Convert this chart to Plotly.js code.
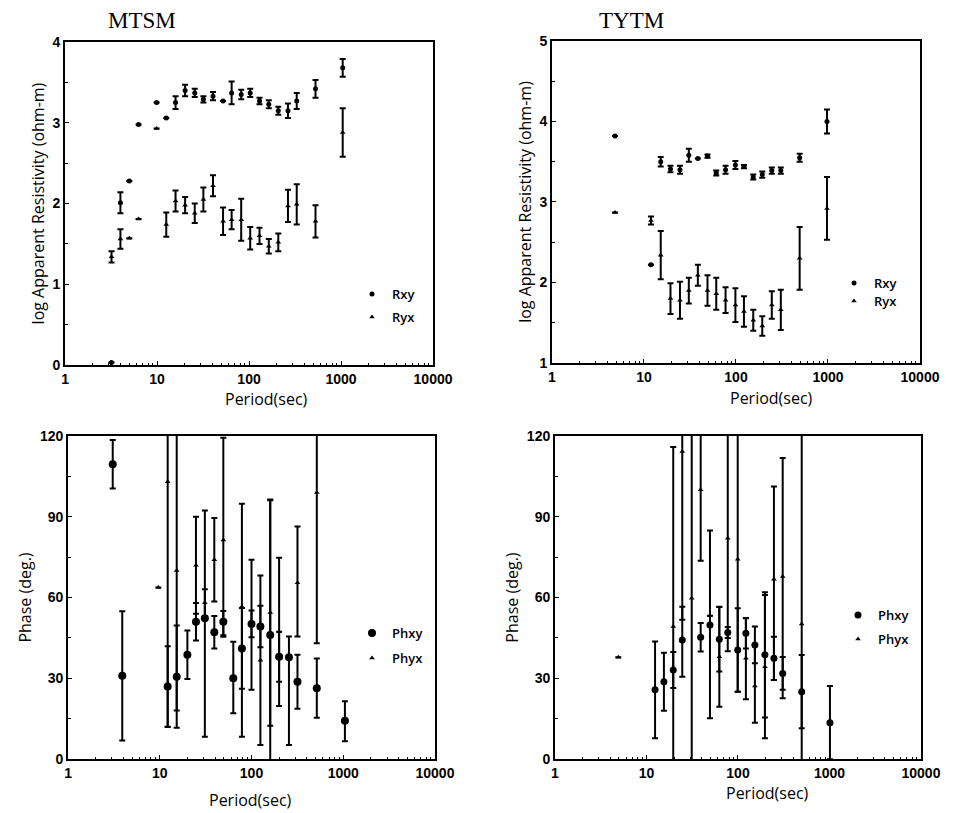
<!DOCTYPE html>
<html>
<head>
<meta charset="utf-8">
<script src="https://cdn.plot.ly/plotly-3.0.1.min.js"></script>
<style>body{margin:0;background:#fff}#chart{width:972px;height:813px}</style>
</head>
<body>
<div id="chart"></div>
<script>
// ---------- MTSM apparent resistivity ----------
const mtsmPeriod = [3.2, 4.0, 5.0, 6.3, 9.9, 12.6, 15.9, 20.2, 25.7, 31.9, 40.6, 52.2, 64.7, 82.2, 103, 130, 164, 208, 265, 330, 528, 1043];
const mtsmRxy    = [0.03, 2.01, 2.28, 2.98, 3.25, 3.06, 3.25, 3.40, 3.37, 3.29, 3.33, 3.27, 3.37, 3.35, 3.37, 3.27, 3.23, 3.15, 3.15, 3.27, 3.42, 3.68];
const mtsmRxyErr = [0, 0.13, 0, 0, 0, 0, 0.08, 0.07, 0.05, 0.04, 0.05, 0, 0.14, 0.06, 0.05, 0.04, 0.05, 0.05, 0.09, 0.10, 0.11, 0.11];
const mtsmRyx    = [1.34, 1.56, 1.57, 1.81, 2.93, 1.74, 2.03, 1.98, 1.88, 2.05, 2.22, 1.78, 1.80, 1.80, 1.57, 1.60, 1.47, 1.52, 1.97, 1.99, 1.78, 2.88];
const mtsmRyxErr = [0.07, 0.12, 0, 0, 0, 0.15, 0.13, 0.10, 0.12, 0.15, 0.13, 0.17, 0.12, 0.26, 0.14, 0.10, 0.09, 0.11, 0.20, 0.25, 0.20, 0.30];

// ---------- TYTM apparent resistivity ----------
const tytmPeriod = [4.84, 11.9, 15.2, 19.4, 24.6, 30.7, 38.5, 49, 61, 77, 98.5, 122, 154, 193, 245, 307, 492, 975];
const tytmRxy    = [3.82, 2.22, 3.50, 3.41, 3.40, 3.58, 3.54, 3.57, 3.36, 3.40, 3.46, 3.44, 3.31, 3.34, 3.39, 3.39, 3.55, 4.00];
const tytmRxyErr = [0, 0, 0.06, 0.04, 0.05, 0.08, 0, 0.02, 0.03, 0.05, 0.05, 0.02, 0.03, 0.04, 0.04, 0.04, 0.05, 0.15];
const tytmRyx    = [2.87, 2.77, 2.34, 1.80, 1.78, 1.90, 2.09, 1.90, 1.86, 1.78, 1.72, 1.64, 1.53, 1.46, 1.72, 1.66, 2.30, 2.92];
const tytmRyxErr = [0, 0.05, 0.30, 0.19, 0.23, 0.16, 0.13, 0.19, 0.20, 0.16, 0.21, 0.19, 0.13, 0.12, 0.17, 0.25, 0.39, 0.39];

// ---------- MTSM phase ----------
const mtsmPhPeriod  = [3.07, 3.9, 9.65, 12.2, 15.3, 20, 24.8, 31, 39.3, 49.3, 63.3, 78.6, 100, 125, 160, 200, 256, 317, 515, 1043];
const mtsmPhxy      = [109.5, 30.9, null, 26.9, 30.6, 38.7, 51.0, 52.3, 47.1, 51.0, 30.0, 41.1, 50.2, 49.2, 46.1, 38.0, 37.8, 28.7, 26.3, 14.2];
const mtsmPhxyPlus  = [9, 24, 0, 15, 19, 9, 7, 40, 6, 4, 13.6, 15, 5, 7.7, 50, 9.3, 7.7, 10, 11, 7.3];
const mtsmPhxyMinus = [9, 24, 0, 15, 19, 9, 7, 44, 6, 5, 13, 15, 5, 7.7, 50, 9.3, 32.6, 10, 11, 7.6];
const mtsmPhyx      = [null, null, 63.7, 103, 70, null, 72, 58.1, 74, 81.4, null, 56.6, 50, 36.7, 54.4, 47.3, null, 65.5, 99, null];
const mtsmPhyxPlus  = [0, 0, 0, 30, 52, 0, 18, 5, 15.5, 38, 0, 38.2, 24, 31.5, 42, 27.5, 0, 20.9, 30, 0];
const mtsmPhyxMinus = [0, 0, 0, 91, 52, 0, 18, 5, 15.5, 36, 0, 48.3, 24.3, 31.5, 42, 27.6, 0, 20, 56, 0];

// ---------- TYTM phase ----------
const tytmPhPeriod  = [4.92, 12.4, 15.5, 19.6, 24.6, 31.2, 39.1, 49.4, 62.5, 77.3, 99.3, 122, 153, 197, 247, 308, 497, 1012];
const tytmPhxy      = [null, 25.7, 28.7, 33.1, 44.2, null, 45.2, 49.8, 44.5, 47.0, 40.5, 46.7, 42.4, 38.7, 37.4, 31.8, 25.0, 13.5];
const tytmPhxyPlus  = [0, 18, 10.8, 6.7, 12.4, 0, 5.3, 35.1, 12, 2, 15.5, 5.6, 6.8, 23.3, 8, 6.1, 13.6, 13.6];
const tytmPhxyMinus = [0, 18, 10.8, 6.7, 13.6, 0, 5.3, 34.7, 12, 2, 15.5, 5.6, 6.8, 23.3, 8, 6.1, 13.6, 13.6];
const tytmPhyx      = [37.8, null, null, 49.2, 114.2, 59.7, 100, 53.2, 38, 82, 74.2, 37.4, 27.1, 34.3, 66.8, 67.8, 50.2, null];
const tytmPhyxPlus  = [0, 0, 0, 66.7, 40, 70, 26.3, 0, 18.6, 40, 50, 15, 15.3, 26.6, 34.4, 44, 75, 0];
const tytmPhyxMinus = [0, 0, 0, 66.7, 62.5, 70, 26.3, 0, 18.6, 42, 49.2, 15.2, 13.6, 26.6, 37.4, 45.2, 75, 0];

const black = '#000';
function errSym(arr){ return {type:'data', array:arr, visible:true, color:black, thickness:2, width:3}; }
function errAsym(p, m){ return {type:'data', symmetric:false, array:p, arrayminus:m, visible:true, color:black, thickness:2, width:3}; }

const traces = [
  {x: mtsmPeriod, y: mtsmRxy, error_y: errSym(mtsmRxyErr), name:'Rxy', mode:'markers', type:'scatter',
   marker:{symbol:'circle', size:5, color:black}, xaxis:'x', yaxis:'y', legend:'legend'},
  {x: mtsmPeriod, y: mtsmRyx, error_y: errSym(mtsmRyxErr), name:'Ryx', mode:'markers', type:'scatter',
   marker:{symbol:'triangle-up', size:5, color:black}, xaxis:'x', yaxis:'y', legend:'legend5'},
  {x: tytmPeriod, y: tytmRxy, error_y: errSym(tytmRxyErr), name:'Rxy', mode:'markers', type:'scatter',
   marker:{symbol:'circle', size:5, color:black}, xaxis:'x2', yaxis:'y2', legend:'legend2'},
  {x: tytmPeriod, y: tytmRyx, error_y: errSym(tytmRyxErr), name:'Ryx', mode:'markers', type:'scatter',
   marker:{symbol:'triangle-up', size:5, color:black}, xaxis:'x2', yaxis:'y2', legend:'legend6'},
  {x: mtsmPhPeriod, y: mtsmPhxy, error_y: errAsym(mtsmPhxyPlus, mtsmPhxyMinus), name:'Phxy', mode:'markers', type:'scatter',
   marker:{symbol:'circle', size:8, color:black}, xaxis:'x3', yaxis:'y3', legend:'legend3'},
  {x: mtsmPhPeriod, y: mtsmPhyx, error_y: errAsym(mtsmPhyxPlus, mtsmPhyxMinus), name:'Phyx', mode:'markers', type:'scatter',
   marker:{symbol:'triangle-up', size:5, color:black}, xaxis:'x3', yaxis:'y3', legend:'legend7'},
  {x: tytmPhPeriod, y: tytmPhxy, error_y: errAsym(tytmPhxyPlus, tytmPhxyMinus), name:'Phxy', mode:'markers', type:'scatter',
   marker:{symbol:'circle', size:7, color:black}, xaxis:'x4', yaxis:'y4', legend:'legend4'},
  {x: tytmPhPeriod, y: tytmPhyx, error_y: errAsym(tytmPhyxPlus, tytmPhyxMinus), name:'Phyx', mode:'markers', type:'scatter',
   marker:{symbol:'triangle-up', size:5, color:black}, xaxis:'x4', yaxis:'y4', legend:'legend8'}
];

const tickFont = {family:'Liberation Sans, Arial, sans-serif', size:14, color:black, weight:'bold'};
const titleFont = {family:'Open Sans, sans-serif', size:16, color:black};
function xAxis(dom, anchor){
  return {domain:dom, anchor:anchor, type:'log', range:[0,4],
    tickvals:[1,10,100,1000,10000], ticktext:['1','10','100','1000','10000'],
    showline:true, linewidth:2, linecolor:black, mirror:true,
    ticks:'inside', ticklen:4, tickwidth:1, tickcolor:black,
    minor:{ticks:'inside', ticklen:2, tickwidth:1, tickcolor:black, dtick:'D1'},
    showgrid:false, zeroline:false, tickfont:tickFont, fixedrange:true};
}
function yAxis(dom, anchor, range, dtick, title, standoff){
  return {domain:dom, anchor:anchor, range:range, dtick:dtick, tick0:0,
    showline:true, linewidth:2, linecolor:black, mirror:true,
    ticks:'inside', ticklen:4, tickwidth:1, tickcolor:black,
    minor:{ticks:'inside', ticklen:3, tickwidth:1, tickcolor:black, dtick:dtick/2},
    showgrid:false, zeroline:false, tickfont:tickFont,
    title:{text:title, font:titleFont, standoff:standoff}};
}

const legendBase = {bgcolor:'rgba(0,0,0,0)', borderwidth:0, xanchor:'left', yanchor:'middle',
  font:{family:'Open Sans, sans-serif', size:13, color:black, weight:600}, itemwidth:30, tracegroupgap:0};
function leg(x, y){ return Object.assign({}, legendBase, {x:x/972, y:1-y/813}); }

const annFont = {family:'Open Sans, sans-serif', size:16, color:black};
function ann(text, x, y, font){
  return {text:text, xref:'paper', yref:'paper', x:x/972, y:1-y/813, xanchor:'center', yanchor:'middle',
          showarrow:false, font:font};
}
const serifFont = {family:'Liberation Serif, Times New Roman, serif', size:23, color:black};
const layout = {
  width:972, height:813, margin:{l:0, r:0, t:0, b:0},
  paper_bgcolor:'#fff', plot_bgcolor:'#fff', showlegend:true,
  xaxis:  xAxis([0.0669, 0.4455], 'y'),
  yaxis:  yAxis([0.5510, 0.9483], 'x', [0,4], 1, 'log Apparent Resistivity (ohm-m)', 4),
  xaxis2: xAxis([0.5679, 0.9465], 'y2'),
  yaxis2: yAxis([0.5535, 0.9496], 'x2', [1,5], 1, 'log Apparent Resistivity (ohm-m)', 4),
  xaxis3: xAxis([0.0700, 0.4475], 'y3'),
  yaxis3: yAxis([0.0664, 0.4637], 'x3', [0,120], 30, 'Phase (deg.)', 4),
  xaxis4: xAxis([0.5710, 0.9475], 'y4'),
  yaxis4: yAxis([0.0664, 0.4637], 'x4', [0,120], 30, 'Phase (deg.)', 4),
  legend:  leg(352, 294),
  legend5: leg(352, 317),
  legend2: leg(834, 283),
  legend6: leg(834, 301),
  legend3: leg(352, 633),
  legend7: leg(352, 658),
  legend4: leg(838, 615),
  legend8: leg(838, 639),
  annotations:[
    ann('MTSM', 142, 20, serifFont),
    ann('TYTM', 631, 20, serifFont),
    ann('Period(sec)', 266, 399, annFont),
    ann('Period(sec)', 771, 398, annFont),
    ann('Period(sec)', 250, 800, annFont),
    ann('Period(sec)', 767, 793, annFont)
  ]
};

Plotly.newPlot('chart', traces, layout, {displayModeBar:false, staticPlot:true});
</script>
</body>
</html>
